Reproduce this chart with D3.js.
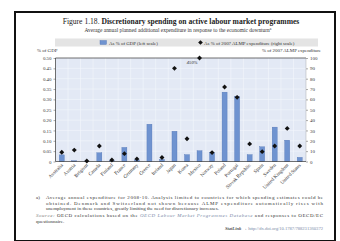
<!DOCTYPE html>
<html><head><meta charset="utf-8">
<script src="https://cdn.jsdelivr.net/npm/d3@7"></script>
<style>
html,body{margin:0;padding:0;background:#fff;}
svg{display:block;}
text{font-family:"Liberation Serif","DejaVu Serif",serif;}
</style></head>
<body>
<svg id="c" width="340" height="241"></svg>
<script>
const categories = ["Australia","Austria","Belgium","Canada","Finland","France","Germany","Greece","Ireland","Japan","Korea","Mexico","Norway","Poland","Portugal","Slovak Republic","Spain","Sweden","United Kingdom","United States"];
const gdpShare = [0.032,0.004,0.002,0.042,0.004,0.068,0.008,0.18,0.01,0.146,0.033,0.052,0.043,0.335,0.315,0.033,0.071,0.166,0.103,0.02];
const almpShare = [9,11,0.5,15,1.5,7.6,2.5,null,3.8,90,22,450,8.6,72,62,17,9.5,15,32,15];
const leftTicks = [0,0.05,0.10,0.15,0.20,0.25,0.30,0.35,0.40,0.45,0.50];
const leftTickLabels = ["0","0.05","0.10","0.15","0.20","0.25","0.30","0.35","0.40","0.45","0.50"];
const rightTicks = [0,10,20,30,40,50,60,70,80,90,100];
const seriesNames = ["As % of GDP (left scale)","As % of 2007 ALMP expenditure (right scale)"];

const svg = d3.select("#c");
const L = 55.5, R = 306, T = 58, B = 161.5;

// frame
svg.append("rect").attr("x",15).attr("y",12).attr("width",320).attr("height",229)
  .attr("fill","none").attr("stroke","#111").attr("stroke-width",2);

// title
const title = svg.append("text").attr("x",181).attr("y",24).attr("text-anchor","middle")
  .attr("font-size",7.6).attr("fill","#222");
title.append("tspan").text("Figure 1.18. ");
title.append("tspan").attr("font-weight","bold").text("Discretionary spending on active labour market programmes");
const sub = svg.append("text").attr("x",178).attr("y",32).attr("text-anchor","middle")
  .attr("font-size",5.4).attr("fill","#333");
sub.append("tspan").text("Average annual planned additional expenditure in response to the economic downturn");
sub.append("tspan").attr("font-size",3.6).attr("dy",-1.8).text("a");

// legend
svg.append("rect").attr("x",55).attr("y",38.5).attr("width",263).attr("height",8).attr("fill","#e4e4e4");
svg.append("rect").attr("x",100).attr("y",40.5).attr("width",6.5).attr("height",4).attr("fill","#6f93d0").attr("stroke","#4f73b3").attr("stroke-width",0.4);
svg.append("text").attr("x",109).attr("y",44.5).attr("font-size",4.9).attr("fill","#333").text(seriesNames[0]);
svg.append("path").attr("d",d3.symbol(d3.symbolSquare,11)()).attr("transform","translate(200.5,42.5) rotate(45)").attr("fill","#111");
svg.append("text").attr("x",204).attr("y",44.5).attr("font-size",4.9).attr("fill","#333").text(seriesNames[1]);

// scales
const x = d3.scaleBand().domain(categories).range([L,R]).paddingInner(0.6).paddingOuter(0.3);
const yL = d3.scaleLinear().domain([0,0.5]).range([B,T]);
const yR = d3.scaleLinear().domain([0,100]).range([B,T]);

// plot background + grid
svg.append("rect").attr("x",L).attr("y",T).attr("width",R-L).attr("height",B-T).attr("fill","#e3e9f5");
svg.append("g").selectAll("line").data(d3.range(1,categories.length)).join("line")
  .attr("x1",d=>L+d*(R-L)/categories.length).attr("x2",d=>L+d*(R-L)/categories.length)
  .attr("y1",T).attr("y2",B).attr("stroke","#f3f6fb").attr("stroke-width",0.6);
svg.append("g").selectAll("line").data(leftTicks.slice(1,-1)).join("line")
  .attr("x1",L).attr("x2",R).attr("y1",d=>yL(d)).attr("y2",d=>yL(d))
  .attr("stroke","#f3f6fb").attr("stroke-width",0.6);

// axis titles
svg.append("text").attr("x",37).attr("y",52).attr("font-size",4.9).attr("fill","#333").text("% of GDP");
svg.append("text").attr("x",321).attr("y",52).attr("text-anchor","end").attr("font-size",4.9).attr("fill","#333").text("% of 2007 ALMP expenditure");

// left axis
const axL = d3.axisLeft(yL).tickValues(leftTicks).tickFormat((d,i)=>leftTickLabels[i]).tickSize(2).tickPadding(2);
const gL = svg.append("g").attr("transform",`translate(${L},0)`).call(axL);
gL.select(".domain").remove();
gL.selectAll("line").attr("stroke","#555").attr("stroke-width",0.5);
gL.selectAll("text").attr("font-size",4.9).attr("fill","#333").attr("font-family","Liberation Serif, serif");

// right axis
const axR = d3.axisRight(yR).tickValues(rightTicks).tickSize(2).tickPadding(2);
const gR = svg.append("g").attr("transform",`translate(${R},0)`).call(axR);
gR.select(".domain").remove();
gR.selectAll("line").attr("stroke","#555").attr("stroke-width",0.5);
gR.selectAll("text").attr("font-size",4.9).attr("fill","#333").attr("font-family","Liberation Serif, serif");

// plot border lines
svg.append("line").attr("x1",L).attr("x2",R).attr("y1",T).attr("y2",T).attr("stroke","#333").attr("stroke-width",0.7);
svg.append("line").attr("x1",L).attr("x2",L).attr("y1",T).attr("y2",B).attr("stroke","#333").attr("stroke-width",0.7);
svg.append("line").attr("x1",R).attr("x2",R).attr("y1",T).attr("y2",B).attr("stroke","#999").attr("stroke-width",0.4);

// bars
svg.append("g").selectAll("rect").data(categories).join("rect")
  .attr("x",d=>x(d)).attr("width",x.bandwidth())
  .attr("y",(d,i)=>yL(gdpShare[i])).attr("height",(d,i)=>B-yL(gdpShare[i]))
  .attr("fill","#6f93d0").attr("stroke","#4d71b2").attr("stroke-width",0.35);

// bottom axis
svg.append("line").attr("x1",L).attr("x2",R).attr("y1",B).attr("y2",B).attr("stroke","#333").attr("stroke-width",0.7);

// diamonds
const pts = categories.map((c,i)=>({c, v: almpShare[i]})).filter(d=>d.v!==null);
svg.append("g").selectAll("path").data(pts).join("path")
  .attr("d",d3.symbol(d3.symbolSquare,12)())
  .attr("transform",d=>`translate(${x(d.c)+x.bandwidth()/2},${yR(Math.min(d.v,100))}) rotate(45)`)
  .attr("fill","#111");
svg.append("g").selectAll("text").data(pts.filter(d=>d.v>100)).join("text")
  .attr("x",d=>x(d.c)+x.bandwidth()/2-2).attr("y",d=>yR(100)+5.5)
  .attr("text-anchor","end").attr("font-size",4.6).attr("font-style","italic").attr("fill","#333")
  .text(d=>d.v+"%");

// x labels
svg.append("g").selectAll("text").data(categories).join("text")
  .attr("transform",d=>`translate(${x(d)+x.bandwidth()/2+1.5},${B+4}) rotate(-45)`)
  .attr("text-anchor","end").attr("font-size",5).attr("fill","#333").text(d=>d);

// notes
const notes = [
 {x:46,y:199,t:"Average annual expenditure for 2008-10. Analysis limited to countries for which spending estimates could be",w:277},
 {x:46,y:204.5,t:"obtained. Denmark and Switzerland not shown because ALMP expenditure automatically rises with",w:277},
 {x:46,y:210,t:"unemployment in these countries, greatly limiting the need for discretionary increases.",w:null}
];
svg.append("text").attr("x",36).attr("y",199).attr("font-size",5).attr("fill","#333").text("a)");
notes.forEach(n=>{
  const t = svg.append("text").attr("x",n.x).attr("y",n.y).attr("font-size",5).attr("fill","#333").text(n.t);
  if(n.w) t.attr("textLength",n.w).attr("lengthAdjust","spacing");
});
const src = svg.append("text").attr("x",36).attr("y",217).attr("font-size",5).attr("fill","#333")
  .attr("textLength",287).attr("lengthAdjust","spacing");
src.append("tspan").attr("font-style","italic").attr("fill","#777").text("Source: ");
src.append("tspan").text("OECD calculations based on the ");
src.append("tspan").attr("font-style","italic").attr("fill","#7a8aa8").text("OECD Labour Market Programmes Database");
src.append("tspan").text(" and responses to OECD/EC");
svg.append("text").attr("x",36).attr("y",222.5).attr("font-size",5).attr("fill","#333").text("questionnaire.");
const sl = svg.append("text").attr("x",323).attr("y",230).attr("text-anchor","end").attr("font-size",4.6).attr("fill","#555");
sl.append("tspan").attr("font-weight","bold").attr("font-style","italic").text("StatLink ");
sl.append("tspan").attr("font-weight","bold").attr("fill","#333").text("\u2192 ");
sl.append("tspan").attr("fill","#7a8aa8").text("http://dx.doi.org/10.1787/788231360372");
</script>
</body></html>
